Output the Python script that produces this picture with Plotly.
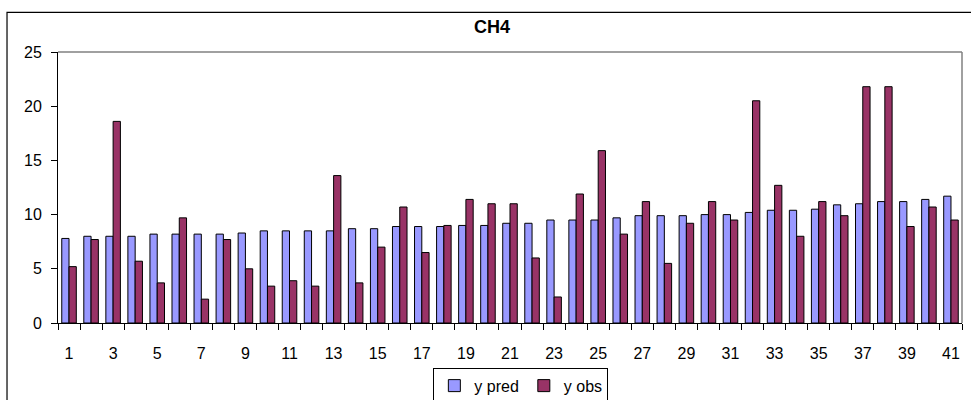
import plotly.graph_objects as go

# sample index 1..41
samples = list(range(1, 42))

y_pred = [7.8, 8.0, 8.0, 8.0, 8.2, 8.2, 8.2, 8.2, 8.3, 8.5,
          8.5, 8.5, 8.5, 8.7, 8.7, 8.9, 8.9, 8.9, 9.0, 9.0,
          9.2, 9.2, 9.5, 9.5, 9.5, 9.7, 9.9, 9.9, 9.9, 10.0,
          10.0, 10.2, 10.4, 10.4, 10.5, 10.9, 11.0, 11.2, 11.2, 11.4,
          11.7]

y_obs = [5.2, 7.7, 18.6, 5.7, 3.7, 9.7, 2.2, 7.7, 5.0, 3.4,
         3.9, 3.4, 13.6, 3.7, 7.0, 10.7, 6.5, 9.0, 11.4, 11.0,
         11.0, 6.0, 2.4, 11.9, 15.9, 8.2, 11.2, 5.5, 9.2, 11.2,
         9.5, 20.5, 12.7, 8.0, 11.2, 9.9, 21.8, 21.8, 8.9, 10.7,
         9.5]

x_ticks = list(range(1, 42, 2))
y_ticks = [0, 5, 10, 15, 20, 25]

FONT = "Liberation Sans, Arial, sans-serif"

fig = go.Figure()

fig.add_trace(go.Bar(
    x=samples, y=y_pred, name="y pred",
    marker=dict(color="#9999FF", line=dict(color="black", width=1)),
))
fig.add_trace(go.Bar(
    x=samples, y=y_obs, name="y obs",
    marker=dict(color="#993366", line=dict(color="black", width=1)),
))

# plot area border (grey top + right) and the outer chart frame
fig.add_shape(type="line", xref="paper", yref="paper", x0=0, x1=1, y0=1, y1=1,
              line=dict(color="#808080", width=1.5))
fig.add_shape(type="line", xref="paper", yref="paper", x0=1, x1=1, y0=0, y1=1,
              line=dict(color="#808080", width=1.5))
fig.add_shape(type="rect", xref="paper", yref="paper",
              x0=-0.0564, x1=1.2, y0=-0.5, y1=1.1465,
              line=dict(color="black", width=1.2), layer="below")

fig.update_layout(
    width=971, height=400,
    margin=dict(l=58, r=9, t=52, b=77, autoexpand=False),
    paper_bgcolor="white", plot_bgcolor="white",
    font=dict(family=FONT, size=16, color="black"),
    barmode="group", bargap=0.34, bargroupgap=0,
    title=dict(text="<b>CH4</b>", font=dict(size=18, family=FONT),
               xref="paper", x=0.48, xanchor="center",
               yref="container", y=0.934, yanchor="middle"),
    showlegend=True,
    legend=dict(orientation="h", xref="paper", yref="paper",
                x=0.512, xanchor="center", y=-0.165, yanchor="top",
                bordercolor="black", borderwidth=1, bgcolor="white",
                font=dict(size=16), itemwidth=30, tracegroupgap=0),
    xaxis=dict(
        range=[0.5, 41.5], tickmode="array", tickvals=x_ticks,
        ticks="outside", ticklen=12, tickcolor="rgba(0,0,0,0)",
        ticklabelstandoff=4,
        showline=True, linecolor="black", linewidth=1,
        showgrid=False, zeroline=False,
        minor=dict(tickmode="linear", tick0=0.5, dtick=1, ticks="outside",
                   ticklen=6, tickcolor="black", showgrid=False),
    ),
    yaxis=dict(
        range=[0, 25], tickmode="array", tickvals=y_ticks,
        ticks="outside", ticklen=6, tickcolor="black",
        ticklabelstandoff=6,
        showline=True, linecolor="black", linewidth=1,
        showgrid=False, zeroline=False,
    ),
)

fig.write_html(
    "out.html",
    config={"displayModeBar": False},
    post_script="document.body.style.margin='0';document.body.style.overflow='hidden';",
)
